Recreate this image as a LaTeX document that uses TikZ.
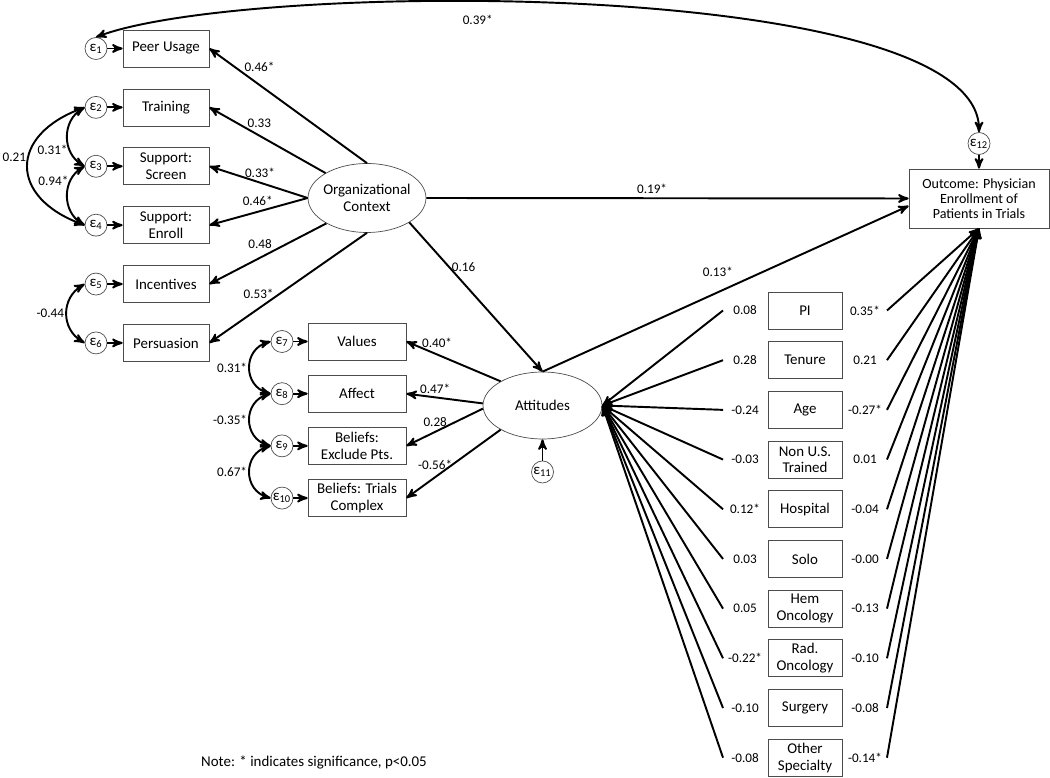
\documentclass[tikz,border=0pt]{standalone}
\usepackage{fontspec}
\setmainfont{Carlito}
\usetikzlibrary{arrows,positioning,shapes}
\tikzset{>=stealth',shorten >=0pt}
\tikzset{
  obs/.style={draw=black!70,rectangle,minimum width=1.72cm,minimum height=0.74cm,inner sep=1pt,align=center,font=\fontsize{8.5}{9.5}\selectfont},
  lat/.style={draw=black!70,ellipse,inner sep=0pt,align=center,font=\fontsize{8.5}{9.5}\selectfont},
  err/.style={draw=black!70,circle,minimum size=0.44cm,inner sep=0pt,font=\fontsize{8.5}{8.5}\selectfont},
  cvar/.style={obs,minimum width=1.48cm},
  coef/.style={font=\fontsize{7.5}{8}\selectfont,inner sep=1pt},
  eff/.style={->,line width=1.1pt},
  cov/.style={<->,line width=1.1pt},
}
\newcommand{\errsym}[1]{ε\textsubscript{#1}}

\begin{document}
\begin{tikzpicture}[x=0.02cm,y=0.02cm,node distance=1.178cm]
\useasboundingbox (0,0) rectangle (1050,777);

% organizational context
\node[lat,minimum width=2.36cm,minimum height=1.38cm,inner xsep=-2pt] (org) at (367,579) {Organizational\\Context};
\node[obs] (peer) at (166,728.5) {Peer Usage};
\node[obs] (train) [below of=peer] {Training};
\node[obs] (screen) [below of=train] {Support:\\Screen};
\node[obs] (enroll) [below of=screen] {Support:\\Enroll};
\node[obs] (incent) [below of=enroll] {Incentives};
\node[obs] (persu) [below of=incent] {Persuasion};
\node[err] (e1) [left of=peer,node distance=1.4cm] {\errsym{1}};
\node[err] (e2) [left of=train,node distance=1.4cm] {\errsym{2}};
\node[err] (e3) [left of=screen,node distance=1.4cm] {\errsym{3}};
\node[err] (e4) [left of=enroll,node distance=1.4cm] {\errsym{4}};
\node[err] (e5) [left of=incent,node distance=1.4cm] {\errsym{5}};
\node[err] (e6) [left of=persu,node distance=1.4cm] {\errsym{6}};

% attitudes
\node[lat,minimum width=2.38cm,minimum height=1.34cm] (att) at (542.5,371.5) {Attitudes};
\begin{scope}[node distance=1.044cm]
\node[obs,minimum width=1.96cm] (values) at (357,435.5) {Values};
\node[obs,minimum width=1.96cm] (affect) [below of=values] {Affect};
\node[obs,minimum width=1.96cm] (exclude) [below of=affect] {Beliefs:\\Exclude Pts.};
\node[obs,minimum width=1.96cm] (complex) [below of=exclude] {Beliefs: Trials\\Complex};
\end{scope}
\node[err] (e7) [left of=values,node distance=1.5cm] {\errsym{7}};
\node[err] (e8) [left of=affect,node distance=1.5cm] {\errsym{8}};
\node[err] (e9) [left of=exclude,node distance=1.5cm] {\errsym{9}};
\node[err] (e10) [left of=complex,node distance=1.5cm] {\errsym{10}};
\node[err] (e11) [below of=att,node distance=1.33cm] {\errsym{11}};

% outcome
\node[obs,minimum width=2.8cm,minimum height=1.18cm,font=\fontsize{8}{8.7}\selectfont] (out) at (979,578.5) {Outcome: Physician\\Enrollment of\\Patients in Trials};
\node[err] (e12) [above of=out,node distance=1.1cm] {\errsym{12}};

% covariates
\begin{scope}[node distance=0.994cm]
\node[cvar] (pi) at (805,466.5) {PI};
\node[cvar] (tenure) [below of=pi] {Tenure};
\node[cvar] (age) [below of=tenure] {Age};
\node[cvar] (nonus) [below of=age] {Non U.S.\\Trained};
\node[cvar] (hosp) [below of=nonus] {Hospital};
\node[cvar] (solo) [below of=hosp] {Solo};
\node[cvar] (hem) [below of=solo] {Hem\\Oncology};
\node[cvar] (rad) [below of=hem] {Rad.\\Oncology};
\node[cvar] (surg) [below of=rad] {Surgery};
\node[cvar] (other) [below of=surg] {Other\\Specialty};
\end{scope}
\begin{scope}[node distance=1.2cm]
\node[coef] (pi-ca) [left of=pi] {0.08};
\node[coef] (tenure-ca) [left of=tenure] {0.28};
\node[coef] (age-ca) [left of=age] {-0.24};
\node[coef] (nonus-ca) [left of=nonus] {-0.03};
\node[coef] (hosp-ca) [left of=hosp] {0.12*};
\node[coef] (solo-ca) [left of=solo] {0.03};
\node[coef] (hem-ca) [left of=hem] {0.05};
\node[coef] (rad-ca) [left of=rad] {-0.22*};
\node[coef] (surg-ca) [left of=surg] {-0.10};
\node[coef] (other-ca) [left of=other] {-0.08};
\node[coef] (pi-co) [right of=pi] {0.35*};
\node[coef] (tenure-co) [right of=tenure] {0.21};
\node[coef] (age-co) [right of=age] {-0.27*};
\node[coef] (nonus-co) [right of=nonus] {0.01};
\node[coef] (hosp-co) [right of=hosp] {-0.04};
\node[coef] (solo-co) [right of=solo] {-0.00};
\node[coef] (hem-co) [right of=hem] {-0.13};
\node[coef] (rad-co) [right of=rad] {-0.10};
\node[coef] (surg-co) [right of=surg] {-0.08};
\node[coef] (other-co) [right of=other] {-0.14*};
\end{scope}
\begin{scope}[node distance=1.64cm]
\coordinate[left of=pi] (pi-a);
\coordinate[left of=tenure] (tenure-a);
\coordinate[left of=age] (age-a);
\coordinate[left of=nonus] (nonus-a);
\coordinate[left of=hosp] (hosp-a);
\coordinate[left of=solo] (solo-a);
\coordinate[left of=hem] (hem-a);
\coordinate[left of=rad] (rad-a);
\coordinate[left of=surg] (surg-a);
\coordinate[left of=other] (other-a);
\coordinate[right of=pi] (pi-o);
\coordinate[right of=tenure] (tenure-o);
\coordinate[right of=age] (age-o);
\coordinate[right of=nonus] (nonus-o);
\coordinate[right of=hosp] (hosp-o);
\coordinate[right of=solo] (solo-o);
\coordinate[right of=hem] (hem-o);
\coordinate[right of=rad] (rad-o);
\coordinate[right of=surg] (surg-o);
\coordinate[right of=other] (other-o);
\end{scope}

\node[font=\fontsize{8.5}{9.5}\selectfont] (note) at (314,15) {Note: * indicates significance, p<0.05};

\path[eff]
  (e1) edge (peer)
  (e2) edge (train)
  (e3) edge (screen)
  (e4) edge (enroll)
  (e5) edge (incent)
  (e6) edge (persu)
  (e7) edge (values)
  (e8) edge (affect)
  (e9) edge (exclude)
  (e10) edge (complex)
  (e11) edge (att)
  (e12) edge (out)
  (org.north) edge node[coef,pos=0.682,yshift=0.37cm] {0.46*} (peer.east)
  (org.149) edge node[coef,pos=0.57,yshift=0.24cm] {0.33} (train.east)
  (org.west) edge node[coef,pos=0.485,yshift=0.2cm] {0.33*} (screen.east)
  (org.west) edge node[coef,pos=0.508,yshift=0.21cm] {0.46*} (enroll.east)
  (org.212) edge node[coef,pos=0.567,yshift=0.27cm] {0.48} (incent.east)
  (org.south) edge node[coef,pos=0.688,yshift=0.29cm] {0.53*} (persu.east)
  (org.east) edge node[coef,pos=0.468,yshift=0.18cm] {0.19*} (out.west)
  (org.330) edge node[coef,pos=0.3,right] {0.16} (att.north)
  (att.north) edge node[coef,pos=0.479,yshift=0.4cm] {0.13*} (out.186)
  (att.150) edge node[coef,pos=0.674,yshift=0.23cm] {0.40*} (values.east)
  (att.178) edge node[coef,pos=0.623,yshift=0.16cm] {0.47*} (affect.east)
  (att.183) edge node[coef,pos=0.623,yshift=0.2cm] {0.28} (exclude.east)
  (att.210) edge node[coef,pos=0.695,yshift=0.24cm] {-0.56*} (complex.east)
  (pi-a) edge (att.east)
  (tenure-a) edge (att.east)
  (age-a) edge (att.east)
  (nonus-a) edge (att.east)
  (hosp-a) edge (att.east)
  (solo-a) edge (att.east)
  (hem-a) edge (att.east)
  (rad-a) edge (att.east)
  (surg-a) edge (att.east)
  (other-a) edge (att.east)
  (pi-o) edge (out.south)
  (tenure-o) edge (out.south)
  (age-o) edge (out.south)
  (nonus-o) edge (out.south)
  (hosp-o) edge (out.south)
  (solo-o) edge (out.south)
  (hem-o) edge (out.south)
  (rad-o) edge (out.south)
  (surg-o) edge (out.south)
  (other-o) edge (out.south)
  ;

% correlated errors
\path[cov]
  (e2.west) edge[bend right=60,looseness=1.15] node[coef,left,pos=0.7] {0.31*} (e3.west)
  (e3.west) edge[bend right=60,looseness=1.15] node[coef,left,pos=0.27] {0.94*} (e4.west)
  (e2.west) edge[bend right=70,looseness=1.76] node[coef,left,pos=0.43] {0.21} (e4.west)
  (e5.west) edge[bend right=60,looseness=1.2] node[coef,left] {-0.44} (e6.west)
  (e7.west) edge[bend right=75,looseness=1.42] node[coef,left] {0.31*} (e8.west)
  (e8.west) edge[bend right=75,looseness=1.42] node[coef,left] {-0.35*} (e9.west)
  (e9.west) edge[bend right=75,looseness=1.42] node[coef,left] {0.67*} (e10.west)
  ;
\draw[cov] (e12.north) .. controls +(0,155) and +(150,57) .. node[coef,pos=0.595,yshift=-0.37cm] {0.39*} (e1.north);
\end{tikzpicture}
\end{document}
